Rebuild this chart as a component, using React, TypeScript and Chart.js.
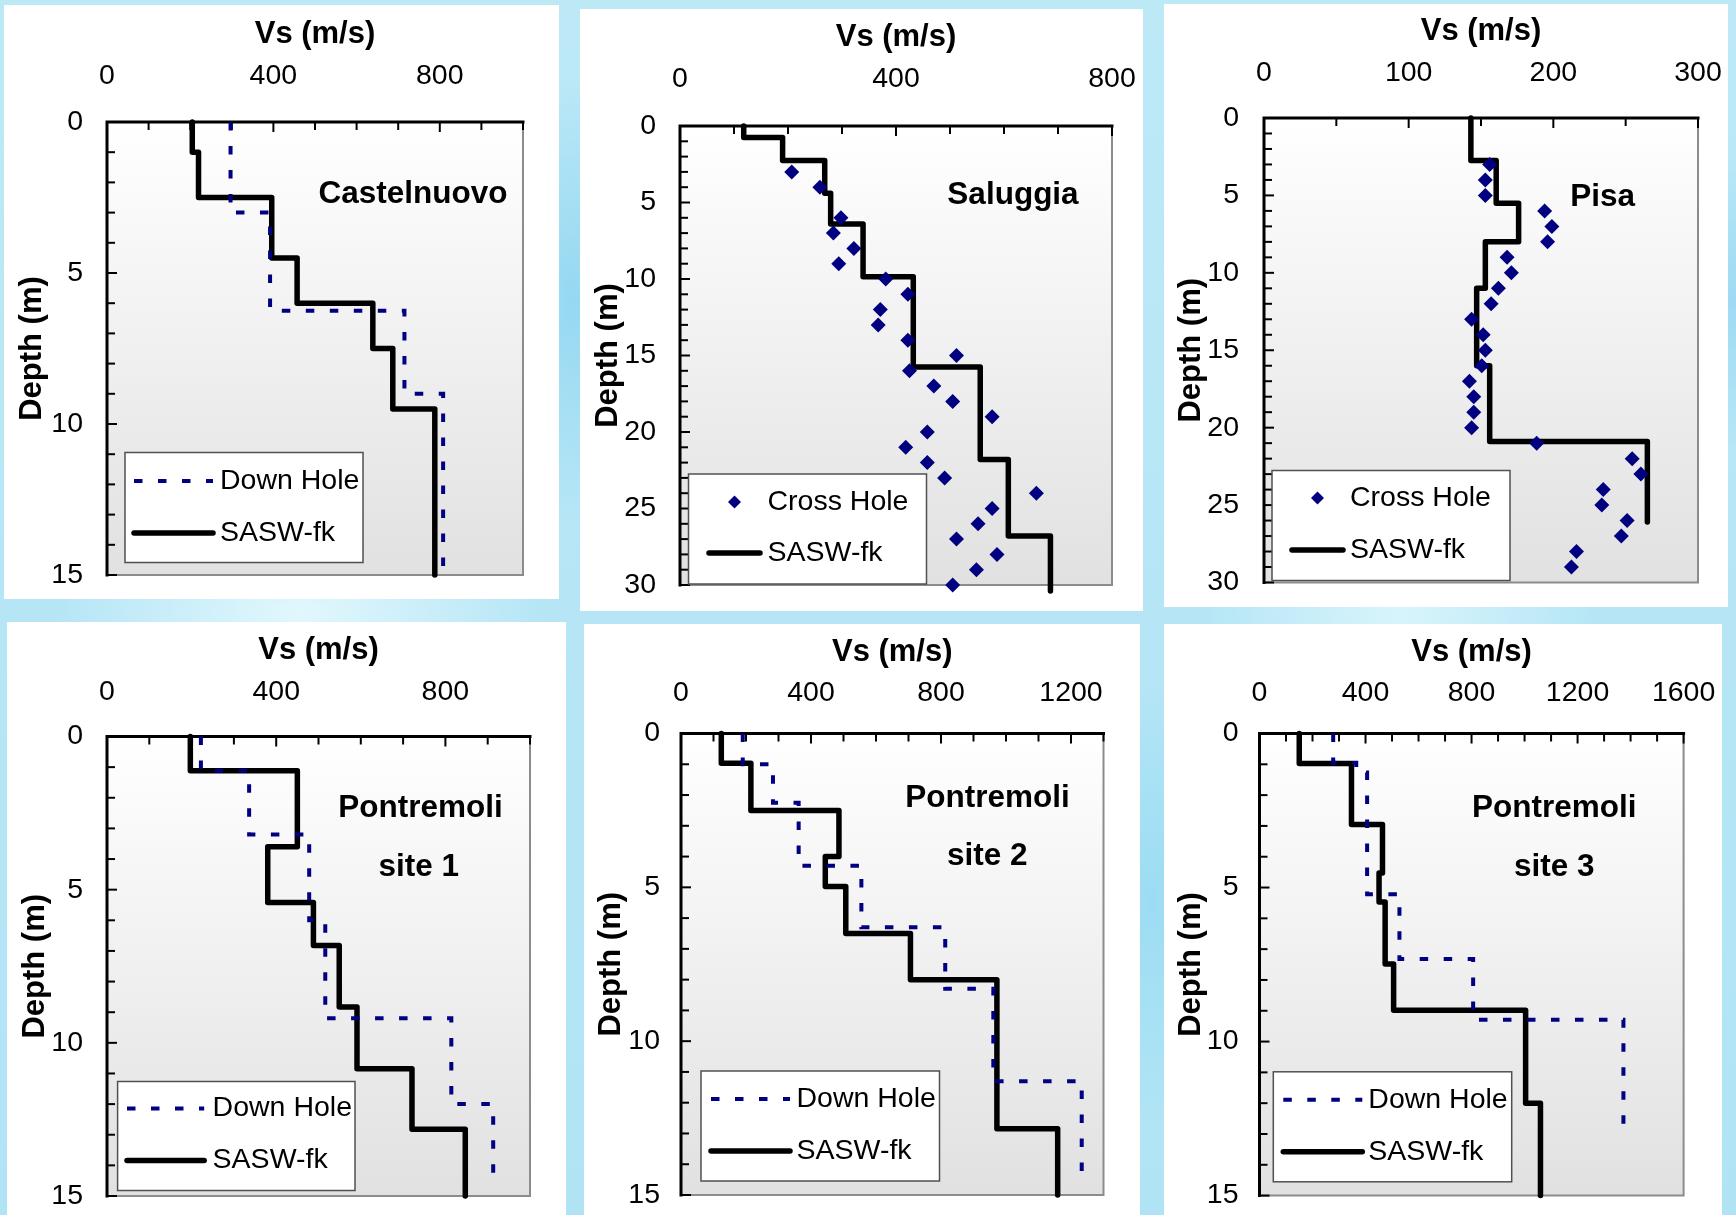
import React, { useEffect, useRef } from 'react';
import { Chart, registerables } from 'chart.js';

Chart.register(...registerables);

const FONT = '"Liberation Sans", Arial, Helvetica, sans-serif';
const NAVY = '#000080';

// ---------------- data ----------------
// Castelnuovo
const castelnuovoSaswVs = [205, 220, 396, 457, 639, 687, 788];
const castelnuovoSaswDepth = [0, 1, 2.5, 4.5, 6, 7.5, 9.5, 15];
const castelnuovoDownHoleVs = [297, 392, 715, 808];
const castelnuovoDownHoleDepth = [0, 3, 6.25, 9, 14.7];

// Saluggia
const saluggiaSaswVs = [118, 190, 268, 279, 339, 432, 556, 608, 686];
const saluggiaSaswDepth = [0, 0.75, 2.25, 4.4, 6.4, 9.85, 15.75, 21.8, 26.8, 30.4];
const saluggiaCrossDepth = [3, 4, 6, 7, 8, 9, 10, 11, 12, 13, 14, 15, 16, 17, 18, 19, 20, 21, 22, 23, 24, 25, 26, 27, 28, 29, 30];
const saluggiaCrossVs = [207, 259, 298, 284, 322, 294, 381, 422, 371, 367, 422, 512, 425, 470, 505, 578, 458, 418, 458, 490, 660, 578, 552, 512, 587, 549, 505];

// Pisa
const pisaSaswVs = [143, 160.5, 176, 153, 147, 156, 265];
const pisaSaswDepth = [0, 2.75, 5.5, 8, 11, 16, 20.9, 26.1];
const pisaCrossDepth = [3, 4, 5, 6, 7, 8, 9, 10, 11, 12, 13, 14, 15, 16, 17, 18, 19, 20, 21, 22, 23, 24, 25, 26, 27, 28, 29];
const pisaCrossVs = [156, 153, 153, 194, 199, 196, 168, 171, 162, 157, 143.5, 151.5, 153, 150.5, 142, 145, 145, 143.5, 188.5, 254.5, 260.5, 234.5, 233.5, 251, 247, 216, 212.5];

// Pontremoli site 1
const pont1SaswVs = [197, 450, 380, 488, 549, 591, 721, 847];
const pont1SaswDepth = [0, 1.12, 3.6, 5.42, 6.82, 8.83, 10.85, 12.82, 15];
const pont1DownHoleVs = [222, 336, 478, 516, 814, 913];
const pont1DownHoleDepth = [0, 1.12, 3.2, 6.0, 9.2, 12.0, 14.55];

// Pontremoli site 2
const pont2SaswVs = [124, 215, 486, 444, 507, 706, 972, 1159];
const pont2SaswDepth = [0, 0.97, 2.5, 4.0, 4.97, 6.5, 8.0, 12.85, 15];
const pont2DownHoleVs = [190, 283, 362, 555, 813, 961, 1233];
const pont2DownHoleDepth = [0, 1.0, 2.25, 4.3, 6.3, 8.3, 11.3, 14.55];

// Pontremoli site 3
const pont3SaswVs = [150, 347, 464, 451, 474, 506, 1004, 1060];
const pont3SaswDepth = [0, 0.97, 2.95, 4.53, 5.47, 7.48, 8.98, 12.0, 15];
const pont3DownHoleVs = [278, 365, 406, 528, 806, 1373];
const pont3DownHoleDepth = [0, 0.95, 1.27, 5.22, 7.32, 9.29, 13.15];

// tick labels
const castelnuovoVsLabels = [0, 400, 800];
const saluggiaVsLabels = [0, 400, 800];
const pisaVsLabels = [0, 100, 200, 300];
const pont1VsLabels = [0, 400, 800];
const pont2VsLabels = [0, 400, 800, 1200];
const pont3VsLabels = [0, 400, 800, 1200, 1600];
const depth15Labels = [0, 5, 10, 15];
const depth30Labels = [0, 5, 10, 15, 20, 25, 30];

// ---------------- helpers ----------------
function stepProfile(vs: number[], depth: number[]) {
  const pts: { x: number; y: number }[] = [];
  for (let i = 0; i < vs.length; i++) {
    pts.push({ x: vs[i], y: depth[i] });
    pts.push({ x: vs[i], y: depth[i + 1] });
  }
  return pts;
}
function pointsOf(vs: number[], depth: number[]) {
  return vs.map((v, i) => ({ x: v, y: depth[i] }));
}
function tickValues(max: number, step: number) {
  const out: number[] = [];
  for (let v = 0; v <= max + 1e-9; v += step) out.push(Math.round(v * 1000) / 1000);
  return out;
}

const sasw = (vs: number[], d: number[]) => ({
  label: 'SASW-fk',
  data: stepProfile(vs, d),
  showLine: true,
  borderColor: '#000000',
  backgroundColor: '#000000',
  borderWidth: 5.5,
  borderJoinStyle: 'round',
  borderCapStyle: 'butt',
  pointRadius: 0,
  clip: false,
});
const downHole = (vs: number[], d: number[]) => ({
  label: 'Down Hole',
  data: stepProfile(vs, d),
  showLine: true,
  borderColor: NAVY,
  backgroundColor: NAVY,
  borderWidth: 4,
  borderDash: [8.5, 15.5],
  borderCapStyle: 'butt',
  pointRadius: 0,
  clip: false,
});
const crossHole = (vs: number[], d: number[]) => ({
  label: 'Cross Hole',
  data: pointsOf(vs, d),
  showLine: false,
  backgroundColor: NAVY,
  borderColor: NAVY,
  borderWidth: 0,
  pointStyle: 'rectRot',
  pointRadius: 7.5,
  clip: false,
});

// ---------------- panels (layout) ----------------
const panels: any[] = [
  {
    key: 'p1', left: 4, top: 5, width: 555, height: 594,
    plot: { left: 103, top: 117, right: 519, bottom: 570 },
    xMax: 1000, xStep: 100, xLabels: castelnuovoVsLabels, yMax: 15, yLabels: depth15Labels,
    xTickPad: 29, xTitlePad: 10.4, yTickPad: 24, yTitlePad: 10,
    titles: [{ text: 'Castelnuovo', x: 409, y: 189.5 }],
    legend: { x: 121, y: 447.5, w: 238, h: 110, sx0: 9, sx1: 88, tx: 95, rows: [28.5, 80.5] },
    datasets: [downHole(castelnuovoDownHoleVs, castelnuovoDownHoleDepth), sasw(castelnuovoSaswVs, castelnuovoSaswDepth)],
  },
  {
    key: 'p2', left: 580, top: 9, width: 563, height: 602,
    plot: { left: 100, top: 117, right: 532, bottom: 576 },
    xMax: 800, xStep: 100, xLabels: saluggiaVsLabels, yMax: 30, yLabels: depth30Labels,
    xTickPad: 30, xTitlePad: 10, yTickPad: 24, yTitlePad: 9.4,
    titles: [{ text: 'Saluggia', x: 433, y: 186.7 }],
    legend: { x: 108.5, y: 465, w: 238, h: 110, sx0: 20.5, sx1: 71.5, tx: 79, rows: [28, 79] },
    datasets: [crossHole(saluggiaCrossVs, saluggiaCrossDepth), sasw(saluggiaSaswVs, saluggiaSaswDepth)],
  },
  {
    key: 'p3', left: 1164, top: 4, width: 564, height: 603,
    plot: { left: 100, top: 114, right: 534, bottom: 578.5 },
    xMax: 300, xStep: 50, xLabels: pisaVsLabels, yMax: 30, yLabels: depth30Labels,
    xTickPad: 28, xTitlePad: 9, yTickPad: 25, yTitlePad: 8.4,
    titles: [{ text: 'Pisa', x: 438.7, y: 193.7 }],
    legend: { x: 108, y: 466.5, w: 238, h: 110, sx0: 20, sx1: 71, tx: 78, rows: [27.5, 79.5] },
    datasets: [crossHole(pisaCrossVs, pisaCrossDepth), sasw(pisaSaswVs, pisaSaswDepth)],
  },
  {
    key: 'p4', left: 7, top: 622, width: 559, height: 593,
    plot: { left: 100, top: 114.5, right: 523, bottom: 574 },
    xMax: 1000, xStep: 100, xLabels: pont1VsLabels, yMax: 15, yLabels: depth15Labels,
    xTickPad: 27.4, xTitlePad: 9.9, yTickPad: 24, yTitlePad: 9.4,
    titles: [{ text: 'Pontremoli', x: 413.6, y: 186.7 }, { text: 'site 1', x: 411.8, y: 245.7 }],
    legend: { x: 110.6, y: 459.5, w: 237.4, h: 109, sx0: 9.4, sx1: 86.6, tx: 95, rows: [27, 79] },
    datasets: [downHole(pont1DownHoleVs, pont1DownHoleDepth), sasw(pont1SaswVs, pont1SaswDepth)],
  },
  {
    key: 'p5', left: 584, top: 624, width: 556, height: 591,
    plot: { left: 97, top: 109.5, right: 519.5, bottom: 571 },
    xMax: 1300, xStep: 100, xLabels: pont2VsLabels, yMax: 15, yLabels: depth15Labels,
    xTickPad: 23, xTitlePad: 9.8, yTickPad: 21, yTitlePad: 8.8,
    titles: [{ text: 'Pontremoli', x: 403.6, y: 174.3 }, { text: 'site 2', x: 403.2, y: 232.1 }],
    legend: { x: 117, y: 447, w: 238.5, h: 110, sx0: 10, sx1: 89, tx: 95.5, rows: [28, 80] },
    datasets: [downHole(pont2DownHoleVs, pont2DownHoleDepth), sasw(pont2SaswVs, pont2SaswDepth)],
  },
  {
    key: 'p6', left: 1164, top: 624, width: 558, height: 591,
    plot: { left: 95.5, top: 109.5, right: 519.6, bottom: 571.6 },
    xMax: 1600, xStep: 100, xLabels: pont3VsLabels, yMax: 15, yLabels: depth15Labels,
    xTickPad: 23.4, xTitlePad: 9.8, yTickPad: 21, yTitlePad: 8.4,
    titles: [{ text: 'Pontremoli', x: 390.3, y: 184.7 }, { text: 'site 3', x: 390.3, y: 243.7 }],
    legend: { x: 109.3, y: 447.8, w: 238.4, h: 110, sx0: 10, sx1: 89, tx: 95, rows: [28, 80] },
    datasets: [downHole(pont3DownHoleVs, pont3DownHoleDepth), sasw(pont3SaswVs, pont3SaswDepth)],
  },
];

// ---------------- plugins ----------------
function framePlugin() {
  return {
    id: 'frame',
    beforeDraw(chart: any) {
      const { ctx, chartArea: a } = chart;
      ctx.save();
      const g = ctx.createLinearGradient(0, a.top, 0, a.bottom);
      g.addColorStop(0, '#ffffff');
      g.addColorStop(1, '#e1e1e1');
      ctx.fillStyle = g;
      ctx.fillRect(a.left, a.top, a.right - a.left, a.bottom - a.top);
      ctx.restore();
    },
    beforeDatasetsDraw(chart: any) {
      const { ctx, chartArea: a } = chart;
      const xs = chart.scales.x;
      const ys = chart.scales.y;
      ctx.save();
      ctx.strokeStyle = '#8c8c8c';
      ctx.lineWidth = 2;
      ctx.beginPath();
      ctx.moveTo(a.right, a.top);
      ctx.lineTo(a.right, a.bottom);
      ctx.lineTo(a.left, a.bottom);
      ctx.stroke();
      ctx.strokeStyle = '#000';
      ctx.lineWidth = 2;
      xs.ticks.forEach((t: any) => {
        const px = xs.getPixelForValue(t.value);
        const len = t.label ? 10 : 8;
        ctx.beginPath();
        ctx.moveTo(px, a.top);
        ctx.lineTo(px, a.top + len);
        ctx.stroke();
      });
      ys.ticks.forEach((t: any) => {
        const py = ys.getPixelForValue(t.value);
        const len = t.label ? 10 : 8;
        ctx.beginPath();
        ctx.moveTo(a.left, py);
        ctx.lineTo(a.left + len, py);
        ctx.stroke();
      });
      ctx.lineWidth = 3;
      ctx.lineCap = 'square';
      ctx.beginPath();
      ctx.moveTo(a.left, a.bottom);
      ctx.lineTo(a.left, a.top);
      ctx.lineTo(a.right, a.top);
      ctx.stroke();
      ctx.restore();
    },
  };
}

function titlePlugin(titles: any[]) {
  return {
    id: 'siteTitle',
    afterDatasetsDraw(chart: any) {
      const ctx = chart.ctx;
      ctx.save();
      ctx.fillStyle = '#000';
      ctx.font = `bold 31.5px ${FONT}`;
      ctx.textAlign = 'center';
      ctx.textBaseline = 'middle';
      titles.forEach((t) => ctx.fillText(t.text, t.x, t.y));
      ctx.restore();
    },
  };
}

function legendPlugin(L: any) {
  return {
    id: 'boxLegend',
    afterDatasetsDraw(chart: any) {
      const ctx = chart.ctx;
      ctx.save();
      ctx.fillStyle = '#ffffff';
      ctx.fillRect(L.x, L.y, L.w, L.h);
      ctx.strokeStyle = '#505050';
      ctx.lineWidth = 1.5;
      ctx.strokeRect(L.x, L.y, L.w, L.h);
      chart.data.datasets.forEach((ds: any, i: number) => {
        const cy = L.y + L.rows[i];
        if (ds.showLine) {
          ctx.beginPath();
          ctx.setLineDash(ds.borderDash || []);
          ctx.strokeStyle = ds.borderColor;
          ctx.lineWidth = ds.borderWidth;
          ctx.lineCap = ds.borderDash ? 'butt' : 'round';
          ctx.moveTo(L.x + L.sx0, cy);
          ctx.lineTo(L.x + L.sx1, cy);
          ctx.stroke();
          ctx.setLineDash([]);
        } else {
          const cx = L.x + (L.sx0 + L.sx1) / 2;
          const r = 6.5;
          ctx.beginPath();
          ctx.moveTo(cx, cy - r);
          ctx.lineTo(cx + r, cy);
          ctx.lineTo(cx, cy + r);
          ctx.lineTo(cx - r, cy);
          ctx.closePath();
          ctx.fillStyle = ds.backgroundColor;
          ctx.fill();
        }
        ctx.fillStyle = '#000';
        ctx.font = `28.5px ${FONT}`;
        ctx.textAlign = 'left';
        ctx.textBaseline = 'middle';
        ctx.fillText(ds.label, L.x + L.tx, cy);
      });
      ctx.restore();
    },
  };
}

function zeroPadding(s: any) {
  s.paddingLeft = 0;
  s.paddingRight = 0;
  s.paddingTop = 0;
  s.paddingBottom = 0;
}

function buildConfig(p: any): any {
  return {
    type: 'scatter',
    data: { datasets: p.datasets },
    plugins: [framePlugin(), titlePlugin(p.titles), legendPlugin(p.legend)],
    options: {
      responsive: false,
      animation: false,
      devicePixelRatio: 1,
      events: [],
      layout: {
        padding: { left: 0, top: 0, right: p.width - p.plot.right, bottom: p.height - p.plot.bottom },
      },
      plugins: { legend: { display: false }, tooltip: { enabled: false }, title: { display: false } },
      scales: {
        x: {
          type: 'linear',
          position: 'top',
          min: 0,
          max: p.xMax,
          grid: { display: false, drawTicks: false },
          border: { display: false },
          afterBuildTicks: (s: any) => {
            s.ticks = tickValues(p.xMax, p.xStep).map((v) => ({ value: v }));
          },
          ticks: {
            autoSkip: false,
            maxRotation: 0,
            minRotation: 0,
            padding: p.xTickPad,
            color: '#000',
            font: { family: FONT, size: 28.5 },
            callback: (v: number) => (p.xLabels.includes(v) ? String(v) : ''),
          },
          title: {
            display: true,
            text: 'Vs (m/s)',
            color: '#000',
            font: { family: FONT, size: 31, weight: 'bold' },
            padding: { top: p.xTitlePad, bottom: 0 },
          },
          afterFit: (s: any) => {
            s.height = p.plot.top;
            zeroPadding(s);
          },
        },
        y: {
          type: 'linear',
          position: 'left',
          min: 0,
          max: p.yMax,
          reverse: true,
          grid: { display: false, drawTicks: false },
          border: { display: false },
          afterBuildTicks: (s: any) => {
            s.ticks = tickValues(p.yMax, 1).map((v) => ({ value: v }));
          },
          ticks: {
            autoSkip: false,
            padding: p.yTickPad,
            color: '#000',
            font: { family: FONT, size: 28.5 },
            callback: (v: number) => (p.yLabels.includes(v) ? String(v) : ''),
          },
          title: {
            display: true,
            text: 'Depth (m)',
            color: '#000',
            font: { family: FONT, size: 31, weight: 'bold' },
            padding: { top: p.yTitlePad, bottom: 0 },
          },
          afterFit: (s: any) => {
            s.width = p.plot.left;
            zeroPadding(s);
          },
        },
      },
    },
  };
}

function Panel({ p }: { p: any }) {
  const ref = useRef<HTMLCanvasElement>(null);
  useEffect(() => {
    const chart = new Chart(ref.current as HTMLCanvasElement, buildConfig(p));
    return () => chart.destroy();
  }, [p]);
  return (
    <div
      style={{
        position: 'absolute',
        left: p.left,
        top: p.top,
        width: p.width,
        height: p.height,
        background: '#ffffff',
      }}
    >
      <canvas
        ref={ref}
        width={p.width}
        height={p.height}
        style={{ display: 'block', width: p.width, height: p.height }}
      />
    </div>
  );
}

const pageBackground = [
  'radial-gradient(ellipse 320px 160px at 300px 612px, rgba(228,248,253,0.95), rgba(228,248,253,0) 75%)',
  'radial-gradient(ellipse 260px 140px at 1400px 615px, rgba(220,246,252,0.9), rgba(220,246,252,0) 75%)',
  'radial-gradient(ellipse 120px 300px at 572px 300px, rgba(140,212,240,0.8), rgba(140,212,240,0) 75%)',
  'radial-gradient(ellipse 120px 300px at 1152px 900px, rgba(150,218,243,0.8), rgba(150,218,243,0) 75%)',
  'radial-gradient(ellipse 200px 200px at 1730px 300px, rgba(150,215,242,0.8), rgba(150,215,242,0) 75%)',
  'linear-gradient(180deg, #bde9f7 0%, #b6e6f6 50%, #b0e4f5 100%)',
].join(',');

export default function App() {
  return (
    <div
      style={{
        position: 'absolute',
        left: 0,
        top: 0,
        width: 1736,
        height: 1215,
        overflow: 'hidden',
        background: pageBackground,
      }}
    >
      {panels.map((p) => (
        <Panel key={p.key} p={p} />
      ))}
    </div>
  );
}
